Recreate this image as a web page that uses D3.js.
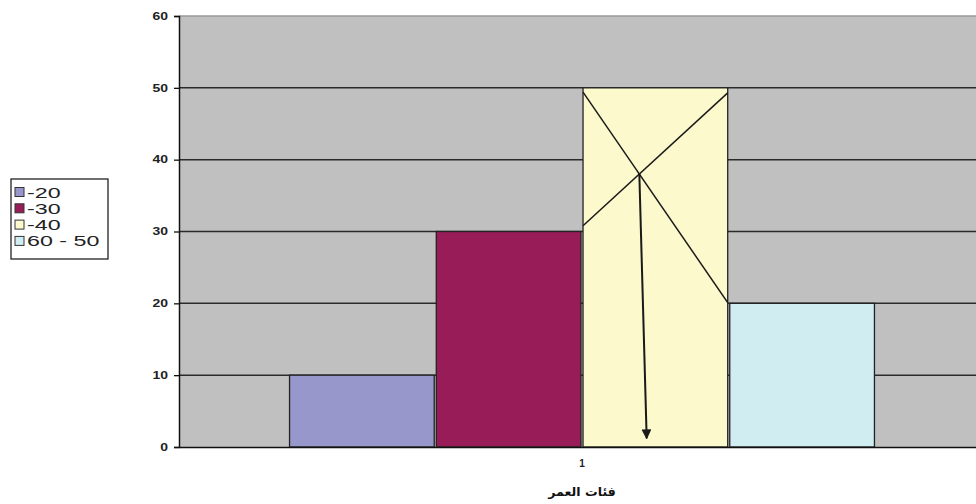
<!DOCTYPE html>
<html>
<head>
<meta charset="utf-8">
<script src="https://cdn.jsdelivr.net/npm/d3@7"></script>
<style>
  html, body { margin: 0; padding: 0; background: #fff; overflow: hidden; }
  svg { display: block; }
</style>
</head>
<body>
<svg id="chart" width="976" height="504"></svg>
<script>
// ---- data ----
const categories = ["1"];
const seriesNames = ["-20", "-30", "-40", "60 - 50"];
const seriesValues = [10, 30, 50, 20];
const seriesColors = ["#9797cb", "#981c58", "#fcf9cd", "#d0eef2"];
const yTicks = [0, 10, 20, 30, 40, 50, 60];
const xTitle = "فئات العمر";
// hand-drawn annotation on the "-40" bar: x as fraction of bar width, y in data units
const crossLines = [
  { x1: 0.0, y1: 49.4, x2: 1.0, y2: 20.1 },
  { x1: 0.0, y1: 30.8, x2: 1.0, y2: 49.3 }
];
const arrowEnd = { x: 0.44, y: 1.2 };
const annotatedSeries = "-40";

// ---- layout ----
const svg = d3.select("#chart");
const plot = { left: 179, top: 16, right: 985, bottom: 447 };
const stretch = 1.4;      // the source picture is horizontally stretched
const legendStretch = 1.5;

const y = d3.scaleLinear().domain([0, 60]).range([plot.bottom, plot.top]);
const x0 = d3.scaleBand().domain(categories).range([plot.left, plot.right])
  .paddingInner(0).paddingOuter(0.189);
const x1 = d3.scaleBand().domain(seriesNames).range([0, x0.bandwidth()])
  .paddingInner(0.014).paddingOuter(0);

// plot background
svg.append("rect")
  .attr("x", plot.left).attr("y", plot.top)
  .attr("width", plot.right - plot.left).attr("height", plot.bottom - plot.top)
  .attr("fill", "#c0c0c0");

// top border (light)
svg.append("line")
  .attr("x1", plot.left).attr("x2", plot.right)
  .attr("y1", y(60)).attr("y2", y(60))
  .attr("stroke", "#9a9a9a").attr("stroke-width", 1.5);

// gridlines
svg.append("g").selectAll("line")
  .data(yTicks.filter(d => d > 0 && d < 60))
  .join("line")
  .attr("x1", plot.left).attr("x2", plot.right)
  .attr("y1", d => y(d)).attr("y2", d => y(d))
  .attr("stroke", "#2a2a2a").attr("stroke-width", 1.5);

// bars
const groups = svg.append("g").selectAll("g")
  .data(categories).join("g")
  .attr("transform", d => `translate(${x0(d)},0)`);

groups.selectAll("rect")
  .data(() => seriesNames.map((s, i) => ({ s, v: seriesValues[i], c: seriesColors[i] })))
  .join("rect")
  .attr("x", d => x1(d.s))
  .attr("y", d => y(d.v))
  .attr("width", x1.bandwidth())
  .attr("height", d => y(0) - y(d.v))
  .attr("fill", d => d.c)
  .attr("stroke", "#222")
  .attr("stroke-width", 1.3);

// y axis
const yAxis = d3.axisLeft(y).tickValues(yTicks).tickSize(5).tickPadding(5).tickFormat(d3.format("d"));
const ya = svg.append("g").attr("transform", `translate(${plot.left},0)`).call(yAxis);
ya.select(".domain").attr("stroke", "#111").attr("stroke-width", 1.5);
ya.selectAll(".tick line").attr("stroke", "#111").attr("stroke-width", 1.3);
ya.selectAll(".tick text")
  .attr("x", -11 / stretch)
  .attr("transform", `scale(${stretch},1)`)
  .attr("font-family", "Liberation Sans, Arial, sans-serif")
  .attr("font-weight", "bold").attr("font-size", 10).attr("fill", "#222");

// x axis
const xAxis = d3.axisBottom(x0).tickSize(0).tickPadding(13);
const xa = svg.append("g").attr("transform", `translate(0,${plot.bottom})`).call(xAxis);
xa.select(".domain").attr("stroke", "#111").attr("stroke-width", 1.5);
xa.selectAll(".tick text")
  .attr("font-family", "Liberation Sans, Arial, sans-serif")
  .attr("font-weight", "bold").attr("font-size", 10).attr("fill", "#222");

// x title
svg.append("text")
  .attr("transform", `translate(${x0(categories[0]) + x0.bandwidth() / 2},496) scale(1.05,1)`)
  .attr("text-anchor", "middle")
  .attr("font-family", "DejaVu Sans, sans-serif")
  .attr("font-weight", "bold").attr("font-size", 12).attr("fill", "#111")
  .text(xTitle);

// annotation (cross + arrow) on the -40 bar
const bx = x0(categories[0]) + x1(annotatedSeries);
const bw = x1.bandwidth();
const px = f => bx + f * bw;
const ann = svg.append("g");
ann.selectAll("line.cross").data(crossLines).join("line")
  .attr("class", "cross")
  .attr("x1", d => px(d.x1)).attr("y1", d => y(d.y1))
  .attr("x2", d => px(d.x2)).attr("y2", d => y(d.y2))
  .attr("stroke", "#1a1a1a").attr("stroke-width", 1.5);

// intersection of the two lines (pixel space)
const L = crossLines.map(d => ({ ax: px(d.x1), ay: y(d.y1), bx: px(d.x2), by: y(d.y2) }));
function intersect(a, b) {
  const d = (a.ax - a.bx) * (b.ay - b.by) - (a.ay - a.by) * (b.ax - b.bx);
  const t = ((a.ax - b.ax) * (b.ay - b.by) - (a.ay - b.ay) * (b.ax - b.bx)) / d;
  return [a.ax + t * (a.bx - a.ax), a.ay + t * (a.by - a.ay)];
}
const ip = intersect(L[0], L[1]);

svg.append("defs").append("marker")
  .attr("id", "arrowhead").attr("viewBox", "0 0 10 10")
  .attr("refX", 9).attr("refY", 5)
  .attr("markerWidth", 10).attr("markerHeight", 10)
  .attr("markerUnits", "userSpaceOnUse")
  .attr("orient", "auto")
  .append("path").attr("d", "M0,0 L10,5 L0,10 Z").attr("fill", "#1a1a1a");

ann.append("line")
  .attr("x1", ip[0]).attr("y1", ip[1])
  .attr("x2", px(arrowEnd.x)).attr("y2", y(arrowEnd.y))
  .attr("stroke", "#1a1a1a").attr("stroke-width", 2)
  .attr("marker-end", "url(#arrowhead)");

// legend
const legend = svg.append("g").attr("transform", "translate(11,179)");
legend.append("rect").attr("x", 0).attr("y", 0).attr("width", 97).attr("height", 80)
  .attr("fill", "#fff").attr("stroke", "#222").attr("stroke-width", 1.3);
const items = legend.selectAll("g.item")
  .data(seriesNames.map((s, i) => ({ s, c: seriesColors[i] })))
  .join("g").attr("class", "item")
  .attr("transform", (d, i) => `translate(4,${13 + i * 16.3})`);
items.append("rect").attr("x", 0).attr("y", -4.5).attr("width", 9).attr("height", 9)
  .attr("fill", d => d.c).attr("stroke", "#333").attr("stroke-width", 1);
items.append("text")
  .attr("transform", `translate(12,0) scale(${legendStretch},1)`)
  .attr("dy", "0.36em")
  .attr("font-family", "Liberation Sans, Arial, sans-serif")
  .attr("font-size", 15.5).attr("fill", "#222")
  .text(d => d.s);
</script>
</body>
</html>
